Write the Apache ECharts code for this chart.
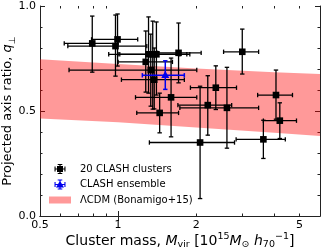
<!DOCTYPE html>
<html><head><meta charset="utf-8">
<script src="https://cdn.jsdelivr.net/npm/echarts@6/dist/echarts.min.js"></script>
<style>html,body{margin:0;padding:0;background:#fff}#c{width:322px;height:251px}</style>
</head><body><div id="c"></div>
<script>
// 20 CLASH clusters
const clusterMass   = [0.795,0.995,0.977,1.31,1.36,1.405,1.71,3.01,1.278,1.336,1.378,1.60,1.446,2.38,2.216,2.627,4.06,4.20,3.63,2.07];
const clusterMassLo = [0.62,0.79,0.64,0.92,1.00,1.015,1.42,2.55,1.00,0.647,1.03,1.167,1.18,1.90,1.70,1.73,3.45,3.63,2.85,1.32];
const clusterMassHi = [1.00,1.19,1.29,1.84,1.89,1.73,2.09,3.48,1.62,2.01,1.80,2.01,1.71,2.86,2.74,3.48,4.70,4.87,4.41,2.81];
const clusterQ      = [0.822,0.841,0.809,0.770,0.770,0.770,0.777,0.782,0.734,0.695,0.649,0.565,0.491,0.611,0.528,0.515,0.576,0.454,0.365,0.350];
const clusterQLo    = [0.685,0.714,0.666,0.585,0.509,0.576,0.634,0.676,0.590,0.523,0.510,0.377,0.396,0.507,0.385,0.323,0.461,0.369,0.274,0.083];
const clusterQHi    = [0.952,0.962,0.957,0.948,0.928,0.924,0.919,0.890,0.881,0.866,0.800,0.752,0.585,0.715,0.668,0.708,0.695,0.539,0.456,0.618];
// CLASH ensemble
const ensembleMass   = [1.52];
const ensembleMassLo = [1.24];
const ensembleMassHi = [1.80];
const ensembleQ      = [0.670];
const ensembleQLo    = [0.603];
const ensembleQHi    = [0.739];
// LCDM band (Bonamigo+15)
const bandMass  = [0.5, 1, 2, 4, 6];
const bandLower = [0.464, 0.446, 0.421, 0.396, 0.381];
const bandUpper = [0.746, 0.724, 0.702, 0.684, 0.676];
// ticks
const xTickLabels = [0.5, 1, 2, 5];
const xMinorTicks = [0.5, 0.6, 0.7, 0.8, 0.9, 2, 3, 4, 5, 6];
const xMajorTicks = [1];
const seriesNames = ['20 CLASH clusters', 'CLASH ensemble', '\u039BCDM (Bonamigo+15)'];

const FONT = 'DejaVu Sans';

function errData(m, ml, mh, q, ql, qh) {
  return m.map((v, i) => [v, q[i], ml[i], mh[i], ql[i], qh[i]]);
}

function errRender(color, marker, lw) {
  return function (params, api) {
    const x = api.value(0), y = api.value(1);
    const c = api.coord([x, y]);
    const xl = api.coord([api.value(2), y])[0];
    const xh = api.coord([api.value(3), y])[0];
    const yl = api.coord([x, api.value(4)])[1];
    const yh = api.coord([x, api.value(5)])[1];
    const cap = 2.2;
    const ls = { stroke: color, lineWidth: lw };
    const children = [
      { type: 'line', z2: 1, shape: { x1: xl, y1: c[1], x2: xh, y2: c[1] }, style: ls },
      { type: 'line', z2: 1, shape: { x1: c[0], y1: yl, x2: c[0], y2: yh }, style: ls },
      { type: 'line', z2: 1, shape: { x1: xl, y1: c[1] - cap, x2: xl, y2: c[1] + cap }, style: ls },
      { type: 'line', z2: 1, shape: { x1: xh, y1: c[1] - cap, x2: xh, y2: c[1] + cap }, style: ls },
      { type: 'line', z2: 1, shape: { x1: c[0] - cap, y1: yl, x2: c[0] + cap, y2: yl }, style: ls },
      { type: 'line', z2: 1, shape: { x1: c[0] - cap, y1: yh, x2: c[0] + cap, y2: yh }, style: ls }
    ];
    if (marker === 'square') {
      children.push({ type: 'rect', z2: 10, shape: { x: c[0] - 3.3, y: c[1] - 3.3, width: 6.6, height: 6.6 }, style: { fill: color } });
    } else {
      children.push({ type: 'polygon', z2: 10, shape: { points: [[c[0], c[1] - 4.5], [c[0] + 4, c[1] + 2.8], [c[0] - 4, c[1] + 2.8]] }, style: { fill: color } });
    }
    return { type: 'group', children };
  };
}

function bandRender(params, api) {
  if (params.dataIndex !== 0) return null;
  const pts = [];
  for (let i = 0; i < bandMass.length; i++) pts.push(api.coord([bandMass[i], bandUpper[i]]));
  for (let i = bandMass.length - 1; i >= 0; i--) pts.push(api.coord([bandMass[i], bandLower[i]]));
  return { type: 'polygon', shape: { points: pts }, style: { fill: 'rgba(255,0,0,0.4)' } };
}

const dots = 'M0,0h0.01v0.01h-0.01Z M25.99,9.99h0.01v0.01h-0.01Z ';
const crossPath = 'M6,4.4H16V5.6H6Z M10.4,0H11.6V10H10.4Z M5.5,2.6H6.6V7.4H5.5Z M15.4,2.6H16.5V7.4H15.4Z M8.7,0H13.3V1H8.7Z M8.7,9H13.3V10H8.7Z ';
const iconBlack = 'path://' + dots + crossPath + 'M8,2H14V8H8Z';
const iconBlue = 'path://' + dots + crossPath + 'M11,1.2L15,8L7,8Z';
const iconBand = 'path://' + dots + 'M0,1.5H22V8.5H0Z';

const axisLineStyle = { color: '#222', width: 1 };
function makeRich(fs, sfs) {
  return {
    i: { fontFamily: FONT, fontSize: fs, fontStyle: 'italic', color: '#000', lineHeight: 18 },
    sub: { fontFamily: FONT, fontSize: sfs, color: '#000', verticalAlign: 'bottom', lineHeight: 11 },
    sup: { fontFamily: FONT, fontSize: sfs, color: '#000', verticalAlign: 'top', lineHeight: 11 }
  };
}

function xAxisBase(extra) {
  return Object.assign({
    type: 'log', logBase: 10, min: 0.5, max: 6,
    axisLine: { show: true, lineStyle: axisLineStyle },
    splitLine: { show: false },
    minorTick: { show: false }
  }, extra);
}

const option = {
  animation: false,
  backgroundColor: '#fff',
  grid: { left: 40, right: 2, top: 6, bottom: 35, outerBoundsMode: 'none', containLabel: false },
  legend: {
    orient: 'vertical', left: 49, top: 163, padding: 0,
    itemWidth: 26, itemHeight: 10, itemGap: 3.5,
    textStyle: { fontFamily: FONT, fontSize: 10, color: '#000', lineHeight: 12 },
    data: [
      { name: seriesNames[0], icon: iconBlack },
      { name: seriesNames[1], icon: iconBlue },
      { name: seriesNames[2], icon: iconBand }
    ],
    selectedMode: false
  },
  xAxis: [
    xAxisBase({
      position: 'bottom',
      axisTick: { show: true, inside: true, length: 5, customValues: xMajorTicks, lineStyle: axisLineStyle },
      axisLabel: { customValues: xTickLabels, fontFamily: FONT, fontSize: 11, color: '#000', margin: 4, formatter: v => String(Math.round(v * 10) / 10) },
      name: 'Cluster mass, {i|M}{sub|vir} [10{sup|15}{i|M}{sub|\u2299} {i|h}{sub|70}{sup|\u22121}]',
      nameLocation: 'middle', nameGap: 16, nameMoveOverlap: false,
      nameTextStyle: { fontFamily: FONT, fontSize: 14, color: '#000', lineHeight: 18, rich: makeRich(14, 9.5) }
    }),
    xAxisBase({
      position: 'top',
      axisTick: { show: true, inside: true, length: 5, customValues: xMajorTicks, lineStyle: axisLineStyle },
      axisLabel: { show: false }
    }),
    xAxisBase({
      position: 'bottom', gridIndex: 0,
      axisLine: { show: false },
      axisTick: { show: true, inside: true, length: 2.5, customValues: xMinorTicks, lineStyle: axisLineStyle },
      axisLabel: { show: false }
    }),
    xAxisBase({
      position: 'top',
      axisLine: { show: false },
      axisTick: { show: true, inside: true, length: 2.5, customValues: xMinorTicks, lineStyle: axisLineStyle },
      axisLabel: { show: false }
    })
  ],
  yAxis: [
    {
      type: 'value', min: 0, max: 1, interval: 0.5, position: 'left',
      axisLine: { show: true, lineStyle: axisLineStyle },
      axisTick: { show: true, inside: true, length: 5, lineStyle: axisLineStyle },
      minorTick: { show: true, splitNumber: 5, length: 2.5, lineStyle: axisLineStyle },
      splitLine: { show: false },
      axisLabel: { fontFamily: FONT, fontSize: 11, color: '#000', margin: 4, formatter: v => v.toFixed(1) },
      name: 'Projected axis ratio, {i|q}{sub|\u22A5}',
      nameLocation: 'middle', nameGap: 23, nameMoveOverlap: false,
      nameTextStyle: { fontFamily: FONT, fontSize: 13, color: '#000', lineHeight: 18, rich: makeRich(13, 9) }
    },
    {
      type: 'value', min: 0, max: 1, interval: 0.5, position: 'right',
      axisLine: { show: true, lineStyle: axisLineStyle },
      axisTick: { show: true, inside: true, length: 5, lineStyle: axisLineStyle },
      minorTick: { show: true, splitNumber: 5, length: 2.5, lineStyle: axisLineStyle },
      splitLine: { show: false },
      axisLabel: { show: false }
    }
  ],
  series: [
    {
      name: seriesNames[2], type: 'custom', z: 1, xAxisIndex: 0, yAxisIndex: 0,
      itemStyle: { color: 'rgba(255,0,0,0.4)' },
      renderItem: bandRender,
      data: bandMass.map((m, i) => [m, bandLower[i], bandUpper[i]]),
      encode: { x: 0, y: [1, 2] }, silent: true
    },
    {
      name: seriesNames[0], type: 'custom', z: 3, xAxisIndex: 0, yAxisIndex: 0,
      itemStyle: { color: '#000' },
      renderItem: errRender('#000', 'square', 1.3),
      data: errData(clusterMass, clusterMassLo, clusterMassHi, clusterQ, clusterQLo, clusterQHi),
      encode: { x: [0, 2, 3], y: [1, 4, 5] }
    },
    {
      name: seriesNames[1], type: 'custom', z: 4, xAxisIndex: 0, yAxisIndex: 0,
      itemStyle: { color: '#0000ee' },
      renderItem: errRender('#0000ee', 'triangle', 1.5),
      data: errData(ensembleMass, ensembleMassLo, ensembleMassHi, ensembleQ, ensembleQLo, ensembleQHi),
      encode: { x: [0, 2, 3], y: [1, 4, 5] }
    }
  ]
};

const chart = echarts.init(document.getElementById('c'), null, { renderer: 'canvas' });
chart.setOption(option);
</script>
</body></html>
